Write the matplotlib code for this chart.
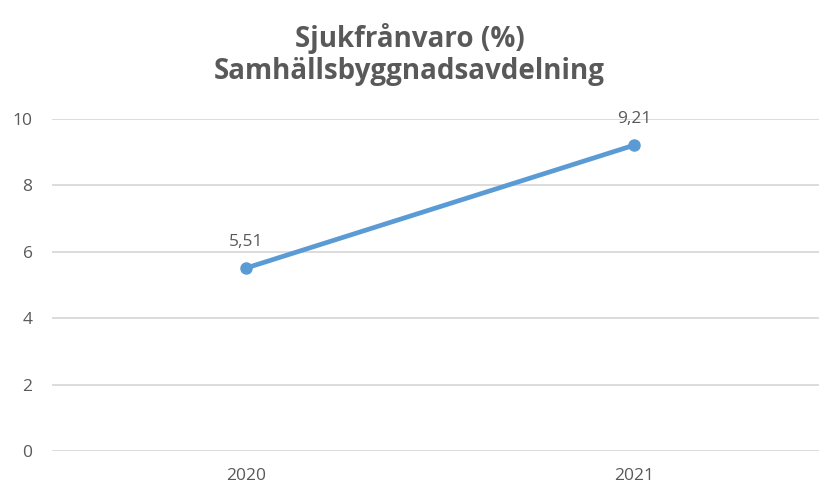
import matplotlib.pyplot as plt

# data
years = ['2020', '2021']
values = [5.51, 9.21]
value_labels = ['5,51', '9,21']
yticks = [0, 2, 4, 6, 8, 10]

grey = '#595959'
plt.rcParams['font.family'] = ['Open Sans', 'DejaVu Sans']

fig = plt.figure(figsize=(8.19, 4.86), dpi=100)
ax = fig.add_axes([52 / 819, 35 / 486, 776 / 819, 332 / 486])

x = list(range(len(years)))
ax.plot(x, values, color='#5B9BD5', linewidth=3.4, marker='o', markersize=8,
        solid_capstyle='round', zorder=3)
for xi, v, lab in zip(x, values, value_labels):
    ax.annotate(lab, (xi, v), xytext=(0, 13), textcoords='offset points',
                ha='center', va='bottom', fontsize=12.5, color=grey)

ax.set_xlim(-0.5, 1.5)
ax.set_ylim(0, 10)
ax.set_xticks(x)
ax.set_xticklabels(years)
ax.set_yticks(yticks)
ax.grid(axis='y', color='#d9d9d9', linewidth=1.3)
ax.set_axisbelow(True)
for s in ax.spines.values():
    s.set_visible(False)
ax.tick_params(length=0, labelsize=12.5, labelcolor=grey)
ax.tick_params(axis='x', pad=12)
ax.tick_params(axis='y', pad=14)

fig.text(0.5, 1 - 38 / 486, 'Sjukfrånvaro (%)', ha='center', va='center',
         fontsize=20, fontweight='bold', color=grey)
fig.text(0.5, 1 - 72 / 486, 'Samhällsbyggnadsavdelning', ha='center', va='center',
         fontsize=20, fontweight='bold', color=grey)

fig.savefig('out.png', dpi=100)
